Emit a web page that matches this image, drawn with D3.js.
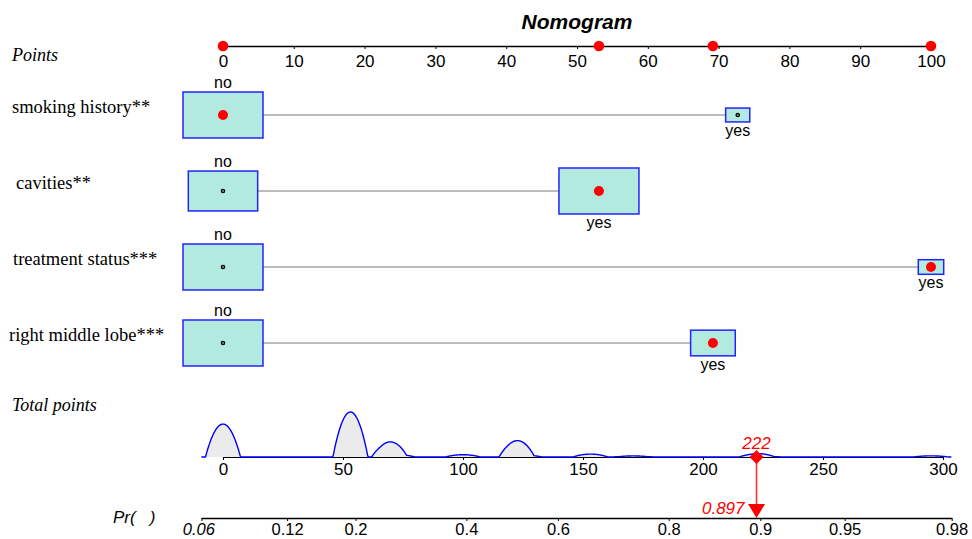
<!DOCTYPE html>
<html>
<head>
<meta charset="utf-8">
<script src="https://cdn.jsdelivr.net/npm/d3@7/dist/d3.min.js"></script>
<style>
  body { margin: 0; background: #fff; }
  svg { display: block; }
  text { font-family: "Liberation Sans", Arial, sans-serif; fill: #000; }
</style>
</head>
<body>
<div id="chart"></div>
<script>
// ---- data ----
const variables = ['smoking history**', 'cavities**', 'treatment status***', 'right middle lobe***'];
const levels = [['no', 'yes'], ['no', 'yes'], ['no', 'yes'], ['no', 'yes']];
const levelPoints = [[0, 72.7], [0, 53.1], [0, 100], [0, 69.2]];
const levelCounts = [[220, 20], [103, 137], [218, 22], [183, 57]];
const selectedLevel = [0, 1, 1, 1];

const pointTicks = [0, 10, 20, 30, 40, 50, 60, 70, 80, 90, 100];
const totalTicks = [0, 50, 100, 150, 200, 250, 300];
const probTicks = [0.06, 0.12, 0.2, 0.4, 0.6, 0.8, 0.9, 0.95, 0.98];

// distinct total scores in the sample and how many patients had each
const totalScores = [0, 53.1, 69.2, 72.7, 100, 122.3, 125.8, 153.1, 169.2, 172.7, 222.3, 225.8, 295];
const totalCounts = [57, 78, 23, 4, 4, 26, 3, 5, 1, 1, 5, 1, 2];

// logistic model: linear predictor = intercept + slope * total points
const intercept = -2.56;
const slope = 0.02125;

// ---- layout ----
const width = 972, height = 539;
const svg = d3.select('#chart').append('svg').attr('width', width).attr('height', height);

const ptsX = d3.scaleLinear().domain([0, 100]).range([223, 931]);
const totX = d3.scaleLinear().domain([0, 300]).range([223, 943]);
const rowY = d3.scalePoint().domain(variables).range([115, 343]);

const logit = p => Math.log(p / (1 - p));
const expit = v => 1 / (1 + Math.exp(-v));
const ptsForLogit = v => (v - intercept) / slope;
const lo = logit(probTicks[0]), hi = logit(probTicks[probTicks.length - 1]);
const probX = d3.scaleLinear().domain([lo, hi]).range([totX(ptsForLogit(lo)), totX(ptsForLogit(hi))]);

// title
svg.append('text').attr('x', 577).attr('y', 29).attr('text-anchor', 'middle')
  .style('font-size', '21px').style('font-weight', 'bold').style('font-style', 'italic')
  .text('Nomogram');

// row / axis names
const serif = '"Liberation Serif", "Times New Roman", serif';
svg.append('text').attr('x', 12).attr('y', 61).style('font-family', serif)
  .style('font-style', 'italic').style('font-size', '18px').text('Points');
svg.append('text').attr('x', 12).attr('y', 411).style('font-family', serif)
  .style('font-style', 'italic').style('font-size', '18px').text('Total points');

const labelX = [12, 16, 13, 9];
svg.selectAll('.varLabel').data(variables).enter().append('text')
  .attr('class', 'varLabel')
  .attr('x', (d, i) => labelX[i])
  .attr('y', d => rowY(d) - 2)
  .style('font-family', serif).style('font-size', '18.5px')
  .text(d => d);

function styleAxis(g) {
  g.select('.domain').attr('stroke', '#000').attr('stroke-width', 1.3);
  g.selectAll('.tick line').attr('stroke', '#000');
  g.selectAll('.tick text').style('font-family', '"Liberation Sans", Arial, sans-serif')
    .style('font-size', '17px').attr('fill', '#000');
}

// points axis
const pointsAxis = svg.append('g').attr('transform', 'translate(0,46)')
  .call(d3.axisBottom(ptsX).tickValues(pointTicks).tickSize(3).tickSizeOuter(0).tickPadding(6));
styleAxis(pointsAxis);

// selected points on the top axis
svg.selectAll('.selDot').data(variables).enter().append('circle')
  .attr('class', 'selDot')
  .attr('cx', (d, i) => ptsX(levelPoints[i][selectedLevel[i]]))
  .attr('cy', 46).attr('r', 5.3).attr('fill', 'red');

// variable rows
variables.forEach((v, i) => {
  const y = rowY(v);
  const maxC = d3.max(levelCounts[i]);
  const bw = d3.scaleSqrt().domain([0, maxC]).range([0, 80]);
  const bh = d3.scaleSqrt().domain([0, maxC]).range([0, 46]);
  const g = svg.append('g');

  const x0 = ptsX(levelPoints[i][0]), x1 = ptsX(levelPoints[i][1]);
  g.append('line')
    .attr('x1', x0 + bw(levelCounts[i][0]) / 2).attr('x2', x1 - bw(levelCounts[i][1]) / 2)
    .attr('y1', y).attr('y2', y)
    .attr('stroke', '#bcbcbc').attr('stroke-width', 2);

  levels[i].forEach((lev, j) => {
    const cx = ptsX(levelPoints[i][j]);
    const w = bw(levelCounts[i][j]), h = bh(levelCounts[i][j]);
    g.append('rect')
      .attr('x', cx - w / 2).attr('y', y - h / 2).attr('width', w).attr('height', h)
      .attr('fill', '#b3eae0').attr('stroke', '#2323ff').attr('stroke-width', 1.5);
    if (selectedLevel[i] === j) {
      g.append('circle').attr('cx', cx).attr('cy', y).attr('r', 5).attr('fill', 'red');
    } else {
      g.append('circle').attr('cx', cx).attr('cy', y).attr('r', 1.7)
        .attr('fill', '#6f8f89').attr('stroke', '#000').attr('stroke-width', 1.2);
    }
    g.append('text')
      .attr('x', cx)
      .attr('y', j === 0 ? y - h / 2 - 4 : y + h / 2 + 14)
      .attr('text-anchor', 'middle').style('font-size', '16px')
      .text(lev);
  });
});

// total points density (Epanechnikov kernel on the sample's total scores)
const baseY = 457;
const bandwidth = 7.3;
const nTotal = d3.sum(totalCounts);
const kernel = u => Math.abs(u) < 1 ? 0.75 * (1 - u * u) : 0;
const grid = d3.range(ptsForLogit(lo), ptsForLogit(hi) + 0.01, 0.25);
const density = grid.map(x => [x, d3.sum(totalScores, (s, k) => totalCounts[k] * kernel((x - s) / bandwidth)) / (nTotal * bandwidth)]);
const dY = d3.scaleLinear().domain([0, d3.max(density, d => d[1])]).range([baseY, baseY - 45]);

svg.append('path').datum(density)
  .attr('d', d3.area().x(d => totX(d[0])).y0(baseY).y1(d => dY(d[1])))
  .attr('fill', '#ebebeb');

const totalAxis = svg.append('g').attr('transform', `translate(0,${baseY})`)
  .call(d3.axisBottom(totX).tickValues(totalTicks).tickSize(3).tickSizeOuter(0).tickPadding(3));
styleAxis(totalAxis);
totalAxis.select('.domain').attr('stroke-width', 1);

svg.append('path').datum(density)
  .attr('d', d3.line().x(d => totX(d[0])).y(d => dY(d[1])))
  .attr('fill', 'none').attr('stroke', 'blue').attr('stroke-width', 1.4);

// probability axis
const probY = 518;
const probAxis = svg.append('g').attr('transform', `translate(0,${probY})`)
  .call(d3.axisBottom(probX).tickValues(probTicks.map(logit)).tickSize(3).tickSizeOuter(0).tickPadding(2)
    .tickFormat((d, i) => String(probTicks[i])));
styleAxis(probAxis);
probAxis.selectAll('.tick text').style('font-size', '16.5px');
probAxis.select('.domain').attr('stroke-width', 1.3);
probAxis.selectAll('.tick text').filter((d, i) => i === 0).style('font-style', 'italic')
  .attr('dx', -3);

svg.append('text').attr('x', 113).attr('y', 523)
  .style('font-size', '17px').style('font-style', 'italic').style('white-space', 'pre')
  .text('Pr(   )');

// the patient's total and predicted probability
const patientTotal = d3.sum(variables, (v, i) => levelPoints[i][selectedLevel[i]]);
const patientProb = expit(intercept + slope * patientTotal);
const px = totX(patientTotal);

svg.append('line').attr('x1', px).attr('x2', px).attr('y1', baseY).attr('y2', probY - 12)
  .attr('stroke', '#ff3030').attr('stroke-width', 1.6);
svg.append('path')
  .attr('d', d3.symbol().type(d3.symbolSquare).size(98))
  .attr('transform', `translate(${px},${baseY}) rotate(45)`)
  .attr('fill', 'red');
svg.append('path')
  .attr('d', `M${px - 8.5},${probY - 14}L${px + 8.5},${probY - 14}L${px},${probY}Z`)
  .attr('fill', 'red');
svg.append('text').attr('x', px).attr('y', 449).attr('text-anchor', 'middle')
  .style('font-size', '17px').style('font-style', 'italic').style('fill', 'red')
  .text(d3.format('.0f')(patientTotal));
svg.append('text').attr('x', px - 12).attr('y', 514).attr('text-anchor', 'end')
  .style('font-size', '17px').style('font-style', 'italic').style('fill', 'red')
  .text(d3.format('.3f')(patientProb));
</script>
</body>
</html>
